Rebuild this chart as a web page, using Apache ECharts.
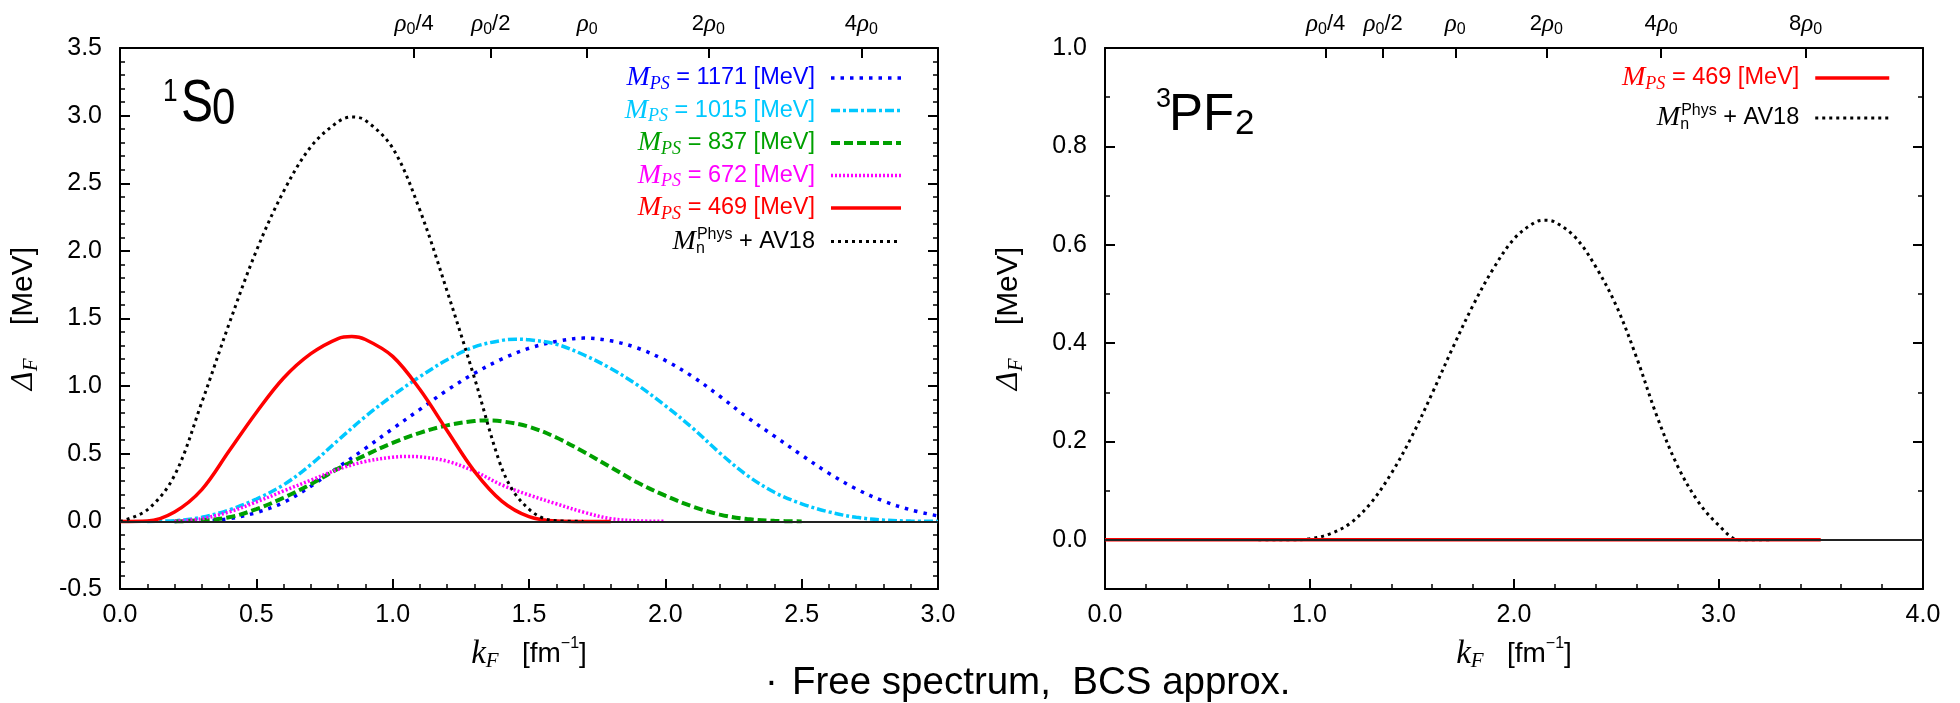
<!DOCTYPE html>
<html><head><meta charset="utf-8">
<script src="https://cdn.jsdelivr.net/npm/echarts@6/dist/echarts.min.js"></script>
<style>html,body{margin:0;padding:0;background:#fff}#c{width:1960px;height:703px}</style>
</head><body><div id="c"></div>
<script>
// ---------- data ----------
// left panel: 1S0   (kF in fm^-1, gap in MeV)
const kf1171 = [0.2,0.3,0.4,0.5,0.6,0.7,0.8,0.9,1.0,1.1,1.2,1.3,1.4,1.5,1.6,1.7,1.8,1.9,2.0,2.1,2.2,2.3,2.4,2.5,2.6,2.7,2.8,2.9,3.0];
const gap1171 = [0,0.003,0.02,0.065,0.14,0.26,0.40,0.54,0.685,0.828,0.97,1.095,1.20,1.28,1.33,1.355,1.335,1.28,1.19,1.07,0.925,0.77,0.63,0.49,0.355,0.24,0.15,0.085,0.04];
const kf1015 = [0.1,0.2,0.3,0.4,0.5,0.6,0.7,0.8,0.9,1.0,1.1,1.2,1.3,1.4,1.45,1.5,1.6,1.7,1.8,1.9,2.0,2.1,2.2,2.3,2.4,2.5,2.6,2.7,2.8,2.9,3.0];
const gap1015 = [0,0.005,0.03,0.085,0.165,0.27,0.42,0.60,0.775,0.93,1.07,1.195,1.29,1.338,1.347,1.343,1.31,1.232,1.13,1.005,0.855,0.69,0.505,0.34,0.215,0.13,0.07,0.03,0.01,0.002,0];
const kf837 = [0.2,0.3,0.4,0.5,0.6,0.7,0.8,0.9,1.0,1.1,1.2,1.3,1.35,1.4,1.5,1.6,1.7,1.8,1.9,2.0,2.1,2.2,2.3,2.4,2.5];
const gap837 = [0,0.008,0.03,0.09,0.175,0.275,0.39,0.49,0.58,0.655,0.71,0.742,0.746,0.74,0.70,0.62,0.515,0.40,0.285,0.19,0.11,0.05,0.017,0.004,0];
const kf672 = [0.2,0.3,0.4,0.5,0.6,0.7,0.8,0.9,1.0,1.05,1.1,1.2,1.3,1.4,1.5,1.6,1.7,1.8,1.9,2.0];
const gap672 = [0,0.02,0.07,0.143,0.225,0.305,0.385,0.443,0.474,0.48,0.477,0.445,0.37,0.27,0.195,0.13,0.068,0.02,0.004,0];
const kf469 = [0,0.1,0.2,0.3,0.4,0.5,0.6,0.7,0.8,0.85,0.9,1.0,1.1,1.2,1.3,1.4,1.5,1.6,1.7,1.8];
const gap469 = [0,0.003,0.07,0.235,0.52,0.805,1.06,1.24,1.352,1.366,1.345,1.22,0.975,0.67,0.37,0.15,0.035,0.003,0,0];
const kfAV = [0,0.1,0.2,0.3,0.4,0.5,0.6,0.7,0.8,0.85,0.9,1.0,1.1,1.2,1.3,1.39,1.44,1.5,1.55,1.6,1.7];
const gapAV = [0,0.085,0.34,0.88,1.46,2.0,2.44,2.77,2.955,2.99,2.965,2.76,2.30,1.70,1.06,0.45,0.23,0.09,0.025,0.005,0];
// right panel: 3PF2
const kf469R = [0,3.5];
const gap469R = [0,0];
const kfAVR = [0.75,0.8,0.9,1.0,1.1,1.2,1.3,1.4,1.5,1.6,1.7,1.8,1.9,2.0,2.1,2.15,2.2,2.3,2.4,2.5,2.6,2.7,2.8,2.9,3.0,3.1,3.2,3.25];
const gapAVR = [0,0,0,0.002,0.012,0.034,0.075,0.135,0.21,0.298,0.39,0.477,0.552,0.612,0.645,0.65,0.646,0.615,0.555,0.476,0.37,0.25,0.15,0.078,0.03,0,0,0];
// density ticks on top axes (kF at rho0/4 ... 8rho0)
const densKF = [1.079,1.360,1.713,2.158,2.719,3.426];
const densLabels = ['{r|ρ}{z|0}{t|/4}','{r|ρ}{z|0}{t|/2}','{r|ρ}{z|0}','{t|2}{r|ρ}{z|0}','{t|4}{r|ρ}{z|0}','{t|8}{r|ρ}{z|0}'];
// y tick labels of right panel
const yTicksR = [0,0.2,0.4,0.6,0.8,1.0];
const yMinorR = [-0.1,0,0.1,0.2,0.3,0.4,0.5,0.6,0.7,0.8,0.9,1.0];
// legend entries
const legL = [
  {name:'L1171', mass:'1171', color:'#0000ff'},
  {name:'L1015', mass:'1015', color:'#00c8ff'},
  {name:'L837',  mass:'837',  color:'#00a000'},
  {name:'L672',  mass:'672',  color:'#ff00ff'},
  {name:'L469',  mass:'469',  color:'#ff0000'},
  {name:'LAV',   mass:null,   color:'#000000'}
];
const legR = [
  {name:'R469', mass:'469', color:'#ff0000'},
  {name:'RAV',  mass:null,  color:'#000000'}
];

// ---------- chart ----------
const pts = (k, g) => k.map((x, i) => [x, g[i]]);
const SANS = '"Liberation Sans", Arial, sans-serif';
const SERIF = '"Liberation Serif", "Times New Roman", serif';

const legendRich = {
  m: {fontFamily: SERIF, fontStyle: 'italic', fontSize: 28, lineHeight: 30, align: 'left'},
  p: {fontFamily: SERIF, fontStyle: 'italic', fontSize: 18, lineHeight: 17, verticalAlign: 'bottom', align: 'left'},
  n: {fontFamily: SANS, fontSize: 16, lineHeight: 16, verticalAlign: 'bottom', width: 1, align: 'left'},
  h: {fontFamily: SANS, fontSize: 16, lineHeight: 16, verticalAlign: 'top', align: 'left'},
  t: {fontFamily: SANS, fontSize: 23.5, lineHeight: 30, align: 'left'},
  g: {fontSize: 10, width: 11, lineHeight: 30, align: 'left'}
};
function legendText(list) {
  return function (name) {
    const e = list.find(d => d.name === name);
    if (e.mass) return '{m|M}{p|PS}{t| = ' + e.mass + ' [MeV]}{g| }';
    return '{m|M}{n|n}{h|Phys}{t| + AV18}{g| }';
  };
}
const topRich = {
  r: {fontFamily: SERIF, fontStyle: 'italic', fontSize: 25, lineHeight: 28},
  z: {fontFamily: SANS, fontSize: 16, lineHeight: 16, verticalAlign: 'bottom'},
  t: {fontFamily: SANS, fontSize: 22, lineHeight: 28}
};
const nameRich = {
  d: {fontFamily: SERIF, fontStyle: 'italic', fontSize: 32, lineHeight: 36},
  k: {fontFamily: SERIF, fontStyle: 'italic', fontSize: 33, lineHeight: 36},
  f: {fontFamily: SERIF, fontStyle: 'italic', fontSize: 21, lineHeight: 21, verticalAlign: 'bottom'},
  t: {fontFamily: SANS, fontSize: 28, lineHeight: 36},
  u: {fontFamily: SANS, fontSize: 30, lineHeight: 36},
  s: {fontFamily: SANS, fontSize: 16, lineHeight: 16, verticalAlign: 'top'}
};
const AXC = '#000';
const axisLine = {show: true, onZero: false, lineStyle: {color: AXC, width: 2}};
const majorTick = {show: true, inside: true, length: 10, lineStyle: {color: AXC, width: 2}};
const minorTick = {show: true, splitNumber: 5, length: 5, lineStyle: {color: AXC, width: 1.5}};
const tickLabel = {color: '#000', fontSize: 25, fontFamily: SANS, formatter: v => Number(v).toFixed(1)};

function topAxis(gridIndex, max, n) {
  const vals = densKF.slice(0, n);
  return {
    type: 'value', gridIndex, position: 'top', min: 0, max,
    axisLine, splitLine: {show: false},
    axisTick: Object.assign({}, majorTick, {customValues: vals}),
    axisLabel: {
      customValues: vals, margin: 10, color: '#000', rich: topRich,
      formatter: v => { let i = 0, b = 1e9; vals.forEach((x, j) => { const d = Math.abs(x - v); if (d < b) { b = d; i = j; } }); return densLabels[i]; }
    }
  };
}
const xName = '{k|k}{f|F}{t|   [fm}{s|−1}{t|]}';
const yName = '{d|Δ}{f|F}{u|    [MeV]}';

const lineS = (name, k, g, color, width, type, xi, yi, z) => ({
  name, type: 'line', xAxisIndex: xi, yAxisIndex: yi, data: pts(k, g),
  symbol: 'none', showSymbol: false, smooth: 0.35, z: z || 3, silent: true,
  lineStyle: {color, width, type, cap: 'butt'}, itemStyle: {color}
});

const option = {
  backgroundColor: '#fff',
  animation: false,
  grid: [
    {left: 120, top: 48, width: 818, height: 541},
    {left: 1105, top: 48, width: 818, height: 541}
  ],
  xAxis: [
    {type: 'value', gridIndex: 0, position: 'bottom', min: 0, max: 3, interval: 0.5,
     axisLine, axisTick: majorTick, minorTick, splitLine: {show: false},
     axisLabel: Object.assign({}, tickLabel, {margin: 14}),
     name: xName, nameLocation: 'middle', nameGap: 47, nameTextStyle: {color: '#000', rich: nameRich}},
    topAxis(0, 3, 5),
    {type: 'value', gridIndex: 1, position: 'bottom', min: 0, max: 4, interval: 1,
     axisLine, axisTick: majorTick, minorTick, splitLine: {show: false},
     axisLabel: Object.assign({}, tickLabel, {margin: 14}),
     name: xName, nameLocation: 'middle', nameGap: 47, nameTextStyle: {color: '#000', rich: nameRich}},
    topAxis(1, 4, 6)
  ],
  yAxis: [
    {type: 'value', gridIndex: 0, position: 'left', min: -0.5, max: 3.5, interval: 0.5,
     axisLine, axisTick: majorTick, minorTick, splitLine: {show: false},
     axisLabel: Object.assign({}, tickLabel, {margin: 18}),
     name: yName, nameLocation: 'middle', nameRotate: 90, nameGap: 78, nameTextStyle: {color: '#000', rich: nameRich}},
    {type: 'value', gridIndex: 0, position: 'right', min: -0.5, max: 3.5, interval: 0.5,
     axisLine, axisTick: majorTick, minorTick, splitLine: {show: false}, axisLabel: {show: false}},
    {type: 'value', gridIndex: 1, position: 'left', min: -0.1, max: 1.0,
     axisLine, axisTick: Object.assign({}, majorTick, {customValues: yTicksR}), splitLine: {show: false},
     axisLabel: Object.assign({}, tickLabel, {margin: 18, customValues: yTicksR}),
     name: yName, nameLocation: 'middle', nameRotate: 90, nameGap: 78, nameTextStyle: {color: '#000', rich: nameRich}},
    {type: 'value', gridIndex: 1, position: 'left', min: -0.1, max: 1.0,
     axisLine: {show: false, onZero: false}, axisTick: Object.assign({}, majorTick, {length: 5, lineStyle: {color: AXC, width: 1.5}, customValues: yMinorR}),
     splitLine: {show: false}, axisLabel: {show: false}},
    {type: 'value', gridIndex: 1, position: 'right', min: -0.1, max: 1.0,
     axisLine, axisTick: Object.assign({}, majorTick, {customValues: yTicksR}), splitLine: {show: false}, axisLabel: {show: false}},
    {type: 'value', gridIndex: 1, position: 'right', min: -0.1, max: 1.0,
     axisLine: {show: false, onZero: false}, axisTick: Object.assign({}, majorTick, {length: 5, lineStyle: {color: AXC, width: 1.5}, customValues: yMinorR}),
     splitLine: {show: false}, axisLabel: {show: false}}
  ],
  legend: [
    {data: legL.map(d => ({name: d.name, textStyle: {color: d.color}})),
     orient: 'vertical', align: 'right', right: 1057, top: 64, padding: 0,
     itemWidth: 70, itemHeight: 14, itemGap: 3.5, selectedMode: false,
     lineStyle: {width: 'inherit'}, itemStyle: {opacity: 0},
     formatter: legendText(legL), textStyle: {rich: legendRich}},
    {data: legR.map(d => ({name: d.name, textStyle: {color: d.color}})),
     orient: 'vertical', align: 'right', right: 69, top: 64, padding: 0,
     itemWidth: 74, itemHeight: 14, itemGap: 10, selectedMode: false,
     lineStyle: {width: 'inherit'}, itemStyle: {opacity: 0},
     formatter: legendText(legR), textStyle: {rich: legendRich}}
  ],
  series: [
    {name: 'zeroL', type: 'line', xAxisIndex: 0, yAxisIndex: 0, data: [], z: 1, silent: true,
     markLine: {silent: true, symbol: 'none', label: {show: false}, lineStyle: {color: '#222', width: 2, type: 'solid'}, data: [{yAxis: 0}]}},
    {name: 'zeroR', type: 'line', xAxisIndex: 2, yAxisIndex: 2, data: [], z: 1, silent: true,
     markLine: {silent: true, symbol: 'none', label: {show: false}, lineStyle: {color: '#222', width: 2, type: 'solid'}, data: [{yAxis: 0}]}},
    lineS('L1171', kf1171, gap1171, '#0000ff', 3.5, [3.5, 6], 0, 0),
    lineS('L1015', kf1015, gap1015, '#00c8ff', 3.5, [9, 3, 3, 3], 0, 0),
    lineS('L837', kf837, gap837, '#00a000', 4, [9, 4], 0, 0),
    lineS('L672', kf672, gap672, '#ff00ff', 3.5, [2, 2], 0, 0),
    lineS('L469', kf469, gap469, '#ff0000', 3.5, 'solid', 0, 0),
    lineS('LAV', kfAV, gapAV, '#000000', 3, [3, 4], 0, 0, 4),
    lineS('RAV', kfAVR, gapAVR, '#000000', 3, [3, 4], 2, 2, 3),
    lineS('R469', kf469R, gap469R, '#ff0000', 3.5, 'solid', 2, 2, 4)
  ],
  graphic: [
    {type: 'text', x: 163, y: 92, scaleX: 0.82, style: {text: '1', font: '32px ' + SANS, fill: '#000', textVerticalAlign: 'middle', verticalAlign: 'middle'}},
    {type: 'text', x: 181, y: 104, scaleX: 0.8, style: {text: 'S', font: '60px ' + SANS, fill: '#000', textVerticalAlign: 'middle', verticalAlign: 'middle'}},
    {type: 'text', x: 212, y: 110, scaleX: 0.84, style: {text: '0', font: '50px ' + SANS, fill: '#000', textVerticalAlign: 'middle', verticalAlign: 'middle'}},
    {type: 'text', x: 1156, y: 100, style: {text: '3', font: '27px ' + SANS, fill: '#000', textVerticalAlign: 'middle', verticalAlign: 'middle'}},
    {type: 'text', x: 1169, y: 116, scaleX: 0.98, style: {text: 'PF', font: '52px ' + SANS, fill: '#000', textVerticalAlign: 'middle', verticalAlign: 'middle'}},
    {type: 'text', x: 1235, y: 124, style: {text: '2', font: '35px ' + SANS, fill: '#000', textVerticalAlign: 'middle', verticalAlign: 'middle'}},
    {type: 'text', x: 765, y: 683, style: {text: '·', font: '38.5px ' + SANS, fill: '#000', textVerticalAlign: 'middle', verticalAlign: 'middle'}},
    {type: 'text', x: 792, y: 683, style: {text: 'Free spectrum,  BCS approx.', font: '38.5px ' + SANS, fill: '#000', textVerticalAlign: 'middle', verticalAlign: 'middle'}}
  ]
};
const chart = echarts.init(document.getElementById('c'), null, {renderer: 'canvas'});
chart.setOption(option);
</script>
</body></html>
